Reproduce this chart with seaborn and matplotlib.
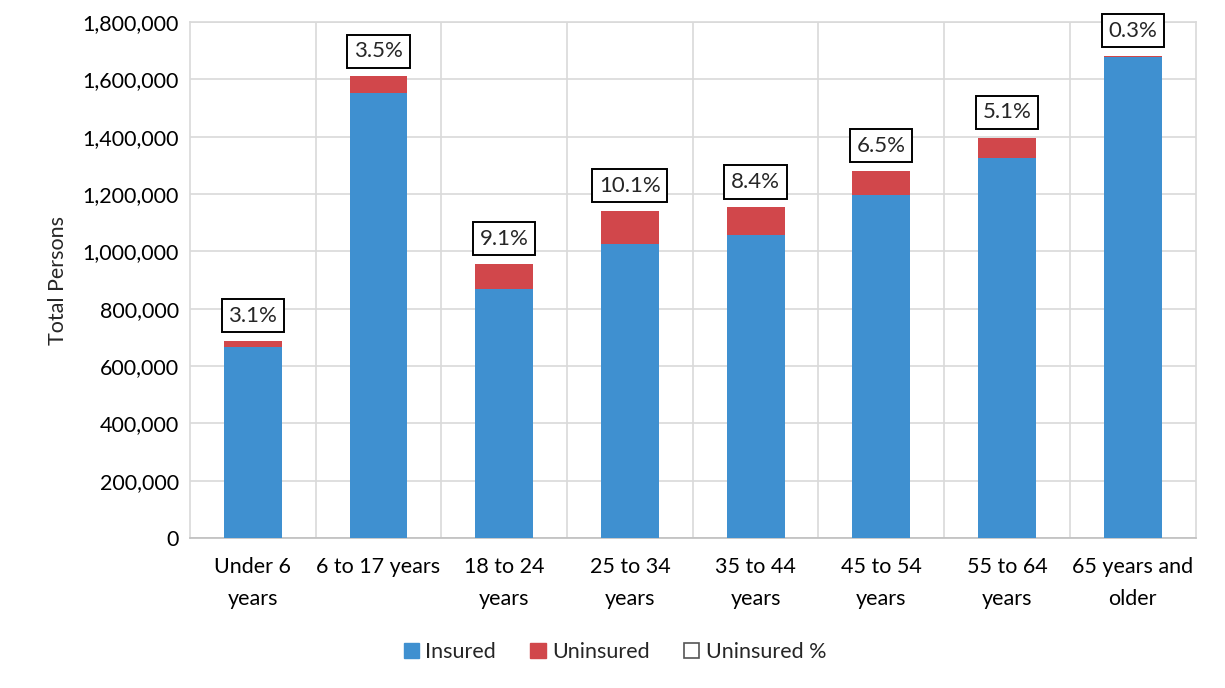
import numpy as np
import pandas as pd
import matplotlib
matplotlib.use("Agg")
import matplotlib.pyplot as plt
import seaborn as sns
from matplotlib.patches import Patch
from matplotlib.ticker import FuncFormatter, MultipleLocator

# data
age_groups = ["Under 6\nyears", "6 to 17 years", "18 to 24\nyears", "25 to 34\nyears",
              "35 to 44\nyears", "45 to 54\nyears", "55 to 64\nyears", "65 years and\nolder"]
insured = [666000, 1553000, 869000, 1026000, 1057000, 1197000, 1326000, 1677000]
uninsured = [21500, 57000, 87000, 115000, 97000, 83000, 71000, 5000]
uninsured_pct = ["3.1%", "3.5%", "9.1%", "10.1%", "8.4%", "6.5%", "5.1%", "0.3%"]

BLUE = "#3f90d0"
RED = "#d1474b"

sns.set_style("white")
plt.rcParams["font.family"] = ["Lato", "DejaVu Sans"]

df = pd.DataFrame({
    "group": age_groups,
    "insured": insured,
    "total": np.array(insured) + np.array(uninsured),
})

fig = plt.figure(figsize=(12.25, 6.88), dpi=100)
ax = fig.add_axes([0.155, 0.218, 0.821, 0.750])

# stacked bars: total (red) drawn first, insured (blue) over it
sns.barplot(data=df, x="group", y="total", color=RED, width=0.46,
            saturation=1, linewidth=0, ax=ax, zorder=3)
sns.barplot(data=df, x="group", y="insured", color=BLUE, width=0.46,
            saturation=1, linewidth=0, ax=ax, zorder=4)

for i, (tot, lab) in enumerate(zip(df["total"], uninsured_pct)):
    ax.annotate(lab, xy=(i, tot), xytext=(0, 11), textcoords="offset points",
                ha="center", va="bottom", fontsize=16, zorder=5,
                bbox=dict(boxstyle="square,pad=0.3", fc="white", ec="black", lw=1.4))

ax.set_ylim(0, 1800000)
ax.set_xlim(-0.5, len(age_groups) - 0.5)
ax.yaxis.set_major_locator(MultipleLocator(200000))
ax.yaxis.set_major_formatter(FuncFormatter(lambda v, p: f"{int(v):,}"))

# grid: horizontal lines + category separators
ax.grid(axis="y", color="#d9d9d9", lw=1.2, zorder=0)
for b in np.arange(0.5, len(age_groups) - 0.5, 1):
    ax.axvline(b, color="#d9d9d9", lw=1.2, zorder=0)
ax.set_axisbelow(True)
for side in ["left", "right", "top"]:
    ax.spines[side].set_color("#d9d9d9")
    ax.spines[side].set_linewidth(1.2)
ax.spines["bottom"].set_color("#bfbfbf")
ax.spines["bottom"].set_linewidth(1.2)

ax.set_xlabel("")
ax.set_ylabel("Total Persons", fontsize=15.5, labelpad=10)
ax.tick_params(axis="both", length=0, labelsize=15.5, colors="black")
ax.tick_params(axis="x", pad=14)
ax.tick_params(axis="y", pad=8)
for t in ax.get_xticklabels():
    t.set_linespacing(1.75)

handles = [Patch(fc=BLUE, ec=BLUE), Patch(fc=RED, ec=RED),
           Patch(fc="white", ec="#555555", lw=1.2)]
fig.legend(handles, ["Insured", "Uninsured", "Uninsured %"], loc="center",
           bbox_to_anchor=(0.502, 0.052), ncol=3, frameon=False, fontsize=15.5,
           handlelength=0.7, handleheight=0.7, handletextpad=0.3, columnspacing=1.6)

fig.savefig("out.png", dpi=100)
